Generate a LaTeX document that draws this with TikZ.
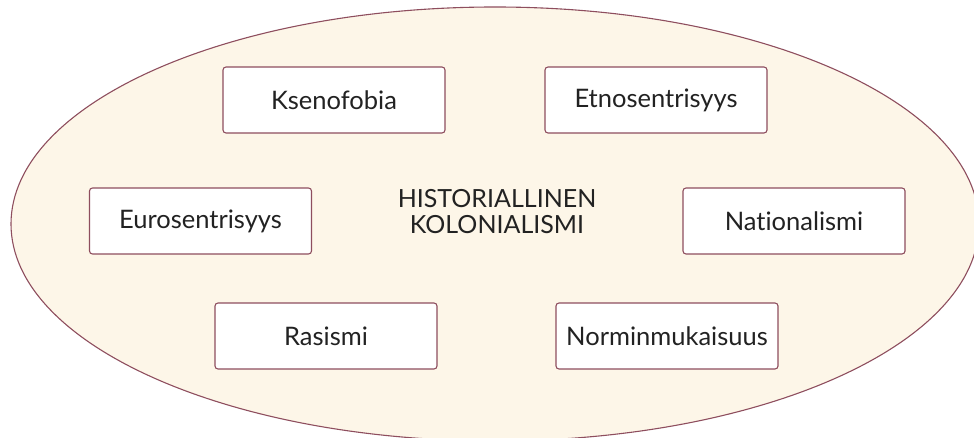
\documentclass[tikz,border=0pt]{standalone}
\usepackage{fontspec}
\setmainfont{Lato}[RawFeature={-liga}]
\usetikzlibrary{shapes.geometric}
\definecolor{cream}{HTML}{FDF6E8}
\definecolor{maroon}{HTML}{8E4E5E}
\definecolor{ink}{HTML}{222222}
\begin{document}
\begin{tikzpicture}[x=1pt,y=-1pt,
  conceptbox/.style={draw=maroon, line width=1.1pt, fill=white, rounded corners=3pt,
    minimum width=222pt, minimum height=66pt, inner sep=0pt,
    text=ink, font=\fontsize{25.5}{30}\selectfont},
  centre/.style={text=ink, align=center, font=\fontsize{25}{26}\selectfont}]
  \useasboundingbox (0,0) rectangle (974,438);
  % surrounding field
  \node[draw=maroon, line width=1.1pt, fill=cream, ellipse, minimum width=968pt, minimum height=434pt, inner sep=0pt] (field) at (495,224) {};
  \node[centre] (core) at (497,212) {HISTORIALLINEN\\KOLONIALISMI};
  \node[conceptbox] (kseno) at (334,100) {Ksenofobia};
  \node[conceptbox] (etno) at (656,100) {Etnosentrisyys};
  \node[conceptbox] (euro) at (200.5,221) {Eurosentrisyys};
  \node[conceptbox] (nat) at (794,221) {Nationalismi};
  \node[conceptbox] (ras) at (326,336) {Rasismi};
  \node[conceptbox] (norm) at (667,336) {Norminmukaisuus};
\end{tikzpicture}
\end{document}
